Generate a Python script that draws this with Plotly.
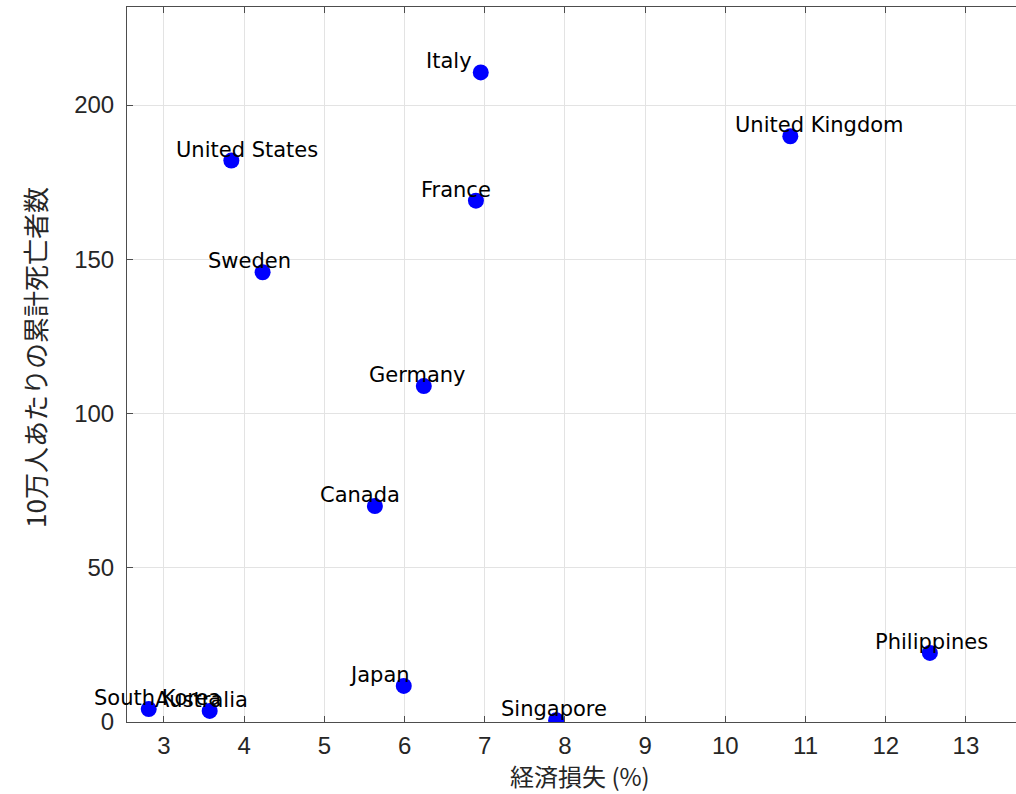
import plotly.graph_objects as go

countries = ["South Korea", "Australia", "Japan", "Singapore", "Canada", "Germany",
             "Sweden", "United States", "France", "Italy", "United Kingdom", "Philippines"]
econ_loss = [2.81, 3.57, 5.99, 7.89, 5.63, 6.24, 4.23, 3.84, 6.89, 6.95, 10.81, 12.55]
deaths_per_100k = [4.2, 3.6, 11.7, 0.6, 70.0, 108.9, 145.8, 182.0, 169.0, 210.6, 189.9, 22.4]

x_ticks = list(range(3, 14))
y_ticks = [0, 50, 100, 150, 200]
x_title = "経済損失 (%)"
y_title = "10万人あたりの累計死亡者数"

fig = go.Figure()
fig.add_trace(go.Scatter(
    x=econ_loss, y=deaths_per_100k, mode="markers",
    marker=dict(color="rgb(0,0,255)", size=16, line=dict(width=0)),
    hoverinfo="text", text=countries, showlegend=False,
))

for cx, cy, name in zip(econ_loss, deaths_per_100k, countries):
    fig.add_annotation(
        x=cx, y=cy, text=name, showarrow=False,
        xanchor="left", yanchor="middle", xshift=-57, yshift=11,
        font=dict(family="DejaVu Sans", size=21, color="black"),
    )

# axis titles (placed as in the reference, whose axes box runs past the right edge)
fig.add_annotation(
    xref="paper", yref="paper", x=0.5096, y=-0.0741, yshift=-1, text=x_title,
    showarrow=False, xanchor="center", yanchor="middle", borderpad=0,
    font=dict(family="Noto Sans CJK JP", size=24, color="#262626"),
)
fig.add_annotation(
    xref="paper", yref="paper", x=-0.1035, y=0.5105, text=y_title, showarrow=False,
    xanchor="center", yanchor="middle", textangle=-90, borderpad=0,
    font=dict(family="Noto Sans CJK JP", size=26, color="#262626"),
)

axis_common = dict(
    showgrid=True, gridcolor="#e3e3e3", gridwidth=1,
    showline=True, linecolor="#4d4d4d", linewidth=1,
    ticks="inside", ticklen=6, tickcolor="#4d4d4d",
    tickfont=dict(family="Liberation Sans, Arial", size=24, color="#262626"),
    zeroline=False,
)

fig.update_layout(
    width=1016, height=794,
    margin=dict(l=127, r=0, t=7, b=72),
    paper_bgcolor="white", plot_bgcolor="white",
    xaxis=dict(range=[2.539, 13.624], tickvals=x_ticks, mirror="ticks",
               ticklabelstandoff=2, **axis_common),
    yaxis=dict(range=[0, 231.8], tickvals=y_ticks, mirror=False,
               ticklabelstandoff=7, **axis_common),
)

fig.write_html("out.html", config={"displayModeBar": False},
               post_script="document.body.style.margin='0px';")
